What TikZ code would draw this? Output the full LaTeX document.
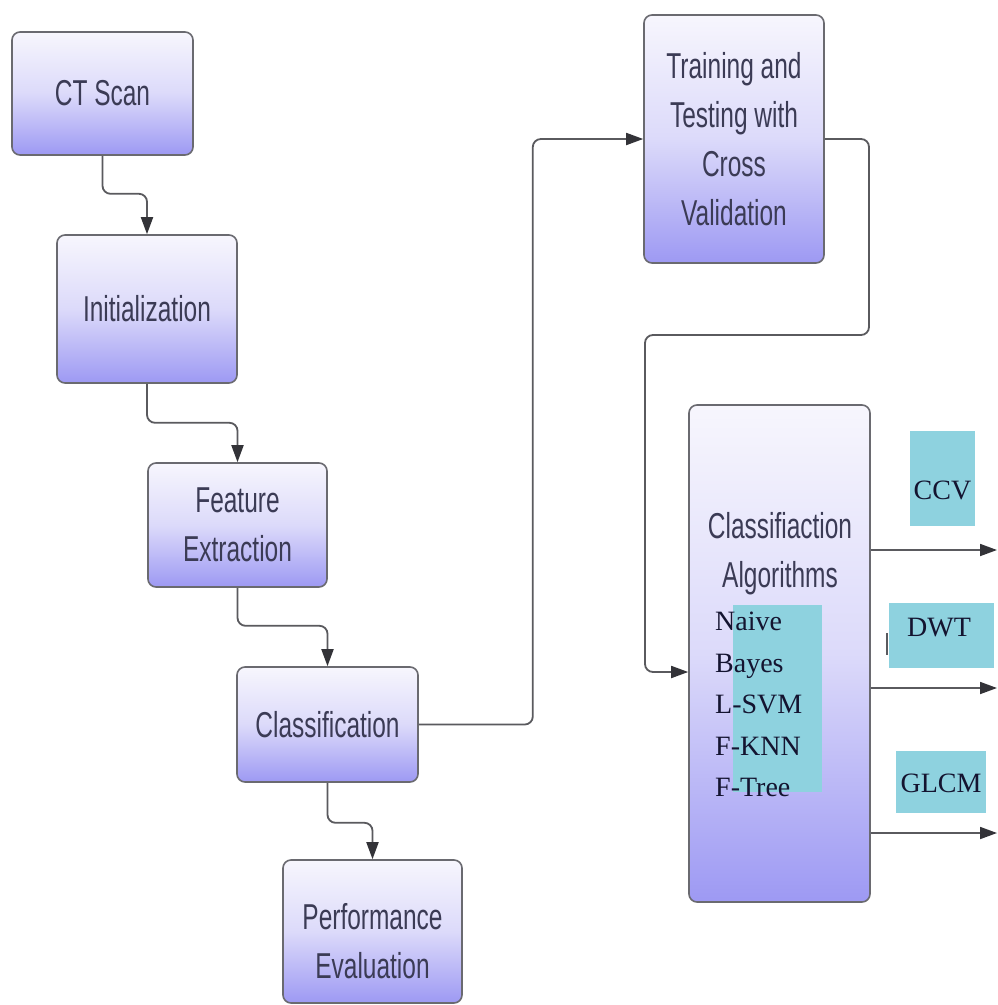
\documentclass[tikz,border=0pt]{standalone}
\usepackage{fontspec}
\newfontfamily\nar[FakeStretch=0.68]{Liberation Sans}
\newfontfamily\tms{Liberation Serif}
\usetikzlibrary{arrows.meta}
\definecolor{boxtop}{HTML}{F7F6FD}
\definecolor{boxmid}{HTML}{DCDAFA}
\definecolor{boxbot}{HTML}{9D99F3}
\definecolor{boxline}{HTML}{6A6A70}
\definecolor{conncol}{HTML}{5A5A5E}
\definecolor{tipcol}{HTML}{333338}
\definecolor{sanstext}{HTML}{3B3B55}
\definecolor{seriftext}{HTML}{141430}
\definecolor{cyanfill}{HTML}{8ED2DF}
\tikzset{
  flowbox/.style={draw=boxline, line width=1.6pt, rounded corners=8pt,
    top color=boxtop, bottom color=boxbot, middle color=boxmid,
    inner sep=0pt, font=\nar\fontsize{36}{49}\selectfont, text=sanstext, align=center},
  plaintext/.style={inner sep=0pt, font=\nar\fontsize{36}{49}\selectfont, text=sanstext, align=center},
  conn/.style={draw=conncol, line width=1.8pt, rounded corners=8pt,
    -{Triangle[length=17pt,width=12pt,fill=tipcol,color=tipcol]}},
  cyanbox/.style={fill=cyanfill, draw=none, inner sep=0pt},
  seriflbl/.style={inner sep=0pt, font=\tms\fontsize{28}{41.5}\selectfont, text=seriftext, align=left}
}
\begin{document}
\begin{tikzpicture}[x=1pt,y=-1pt]
\useasboundingbox[fill=white] (0,0) rectangle (998,1005);

% left column
\node[flowbox, minimum width=181pt, minimum height=123pt] (ct) at (102.5,93.5) {CT Scan};
\node[flowbox, minimum width=180pt, minimum height=148pt] (init) at (147,309) {Initialization};
\node[flowbox, minimum width=179pt, minimum height=124pt] (feat) at (237.5,525) {Feature\\Extraction};
\node[flowbox, minimum width=181pt, minimum height=115pt] (cls) at (327.5,724.5) {Classification};
\node[flowbox, minimum width=179pt, minimum height=143pt] (perf) at (372.5,931.5) {};
\node[plaintext] (perftxt) at (372.5,941) {Performance\\Evaluation};

% right column
\node[flowbox, minimum width=180pt, minimum height=248pt] (train) at (734,139) {Training and\\Testing with\\Cross\\Validation};
\node[flowbox, minimum width=181pt, minimum height=497pt] (alg) at (779.5,653.5) {};
\node[plaintext] (algtxt) at (780,554) {Classifiaction\\Algorithms};
\node[cyanbox, minimum width=89pt, minimum height=187pt] (algcyan) at (777.5,698.5) {};
\node[seriflbl, anchor=north west] (alglist) at (715,612) {Naive\\Bayes\\L-SVM\\F-KNN\\F-Tree};

% feature labels
\node[cyanbox, minimum width=65pt, minimum height=95pt] (ccvbox) at (942.5,478.5) {};
\node[inner sep=0pt, font=\tms\fontsize{28}{34}\selectfont, text=seriftext] (ccv) at (942.5,490) {CCV};
\draw[conncol, line width=2.2pt] (887,633) coordinate (mk1) -- (887,655) coordinate (mk2);
\node[cyanbox, minimum width=105pt, minimum height=65pt] (dwtbox) at (941.5,635.5) {};
\node[inner sep=0pt, font=\tms\fontsize{28}{34}\selectfont, text=seriftext] (dwt) at (939,628) {DWT};
\node[cyanbox, minimum width=90pt, minimum height=62pt] (glcmbox) at (941,782) {};
\node[inner sep=0pt, font=\tms\fontsize{28}{34}\selectfont, text=seriftext] (glcm) at (941,783) {GLCM};

% connector end points
\coordinate (o1) at (997,550);
\coordinate (o2) at (997,688);
\coordinate (o3) at (997,833);
\coordinate (jA) at (869,335);
\coordinate (jB) at (645,335);

% connectors
\draw[conn] (ct.south) -- ++(0,38) -| (init.north);
\draw[conn] (init.south) -- ++(0,39) -| (feat.north);
\draw[conn] (feat.south) -- ++(0,38) -| (cls.north);
\draw[conn] (cls.south) -- ++(0,40) -| (perf.north);
\draw[conn] (cls.east) -- ++(114,0) |- (train.west);
\draw[conn] (train.east) -| (jA) -- (jB) |- ([yshift=-18.5pt]alg.west);
\draw[conn] (alg.east |- o1) -- (o1);
\draw[conn] (alg.east |- o2) -- (o2);
\draw[conn] (alg.east |- o3) -- (o3);
\end{tikzpicture}
\end{document}
